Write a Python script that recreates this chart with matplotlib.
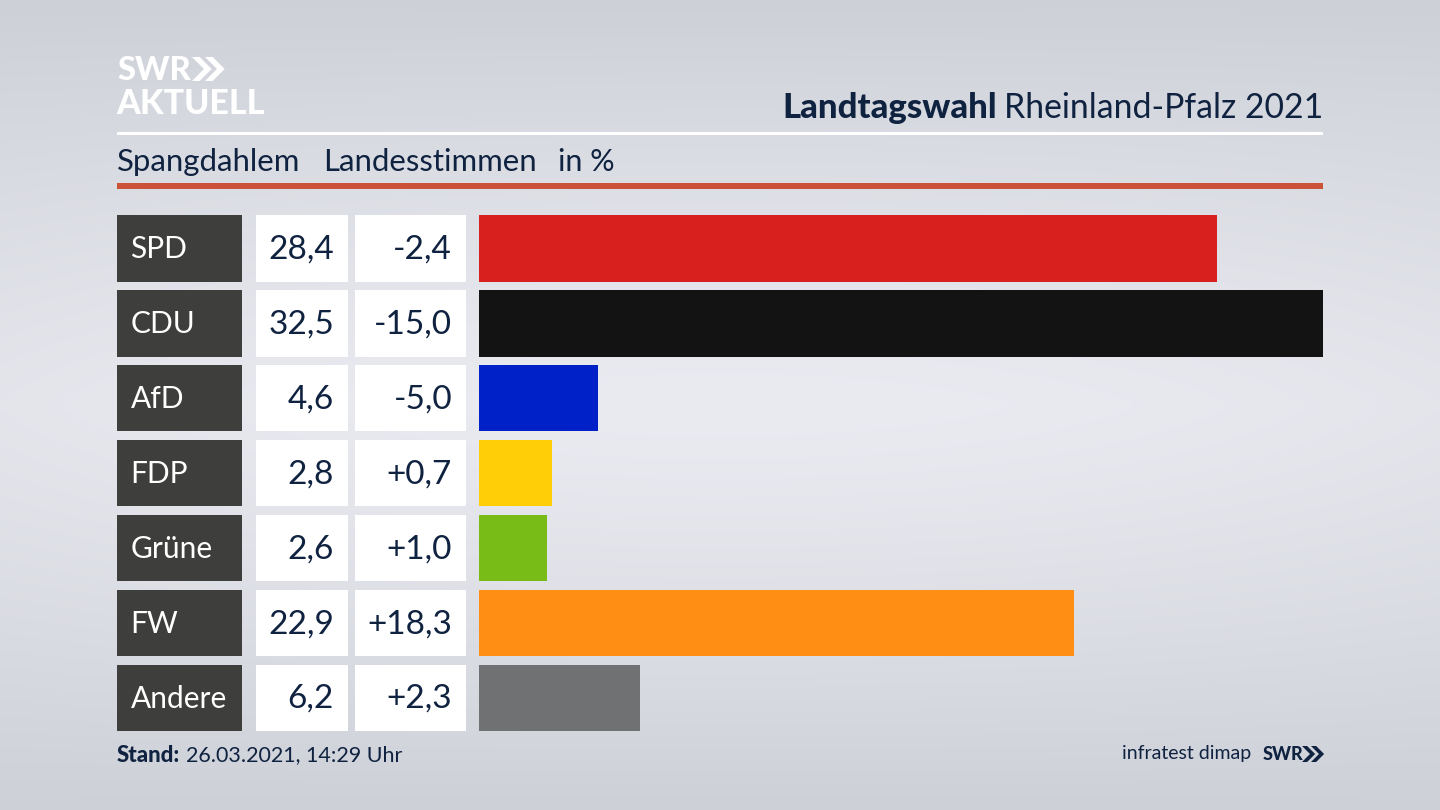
import numpy as np
import matplotlib
matplotlib.use("Agg")
import matplotlib.pyplot as plt
from matplotlib.patches import Rectangle, Polygon

parties = ["SPD", "CDU", "AfD", "FDP", "Grüne", "FW", "Andere"]
shares = [28.4, 32.5, 4.6, 2.8, 2.6, 22.9, 6.2]
changes = ["-2,4", "-15,0", "-5,0", "+0,7", "+1,0", "+18,3", "+2,3"]
colors = ["#d8201f", "#131313", "#0021c7", "#ffce07", "#77bc17", "#ff8f14", "#707172"]

NAVY = "#0f2240"
FONT = "Lato"
plt.rcParams["font.family"] = [FONT, "DejaVu Sans"]

fig = plt.figure(figsize=(14.4, 8.1), dpi=100)

# backdrop and page furniture, in pixel coordinates
bg = fig.add_axes([0, 0, 1, 1])
bg.set_xlim(0, 1440); bg.set_ylim(810, 0); bg.axis("off")
yy, xx = np.mgrid[0:1:162j, 0:1:288j]
d = np.clip(1 - (np.abs(yy - 0.5) / 0.5) ** 1.3, 0, 1) * (1 - 0.22 * (np.abs(xx - 0.5) / 0.5) ** 2)
top = np.array([205, 208, 215]) / 255
mid = np.array([234, 235, 241]) / 255
img = top + (mid - top) * d[..., None]
bg.imshow(img, extent=(0, 1440, 810, 0), aspect="auto", interpolation="bicubic", zorder=0)

bg.add_patch(Rectangle((117, 132), 1206, 3, color="white", lw=0, zorder=1))
bg.add_patch(Rectangle((117, 183), 1206, 6, color="#cb5238", lw=0, zorder=1))

def chevrons(x, y, h, color, gap):
    w = h * 0.5
    t = h * 0.32
    for k in range(2):
        x0 = x + k * gap
        bg.add_patch(Polygon([(x0, y), (x0 + t, y), (x0 + t + w, y + h / 2), (x0 + t, y + h),
                              (x0, y + h), (x0 + w, y + h / 2)], closed=True, color=color, lw=0, zorder=3))

bg.text(117, 70, "SWR", fontsize=23.5, fontweight="black", color="white", va="center", ha="left")
chevrons(192, 57, 24, "white", 13)
bg.text(116, 104, "AKTUELL", fontsize=24.5, fontweight="black", color="white", va="center", ha="left")

bg.text(1323, 108, "Rheinland-Pfalz 2021", fontsize=24.3, color=NAVY, va="center", ha="right")
bg.text(997, 108, "Landtagswahl", fontsize=25, fontweight="black", color=NAVY, va="center", ha="right")

bg.text(117, 162, "Spangdahlem", fontsize=22.4, color=NAVY, va="center", ha="left")
bg.text(323, 162, "Landesstimmen", fontsize=22.4, color=NAVY, va="center", ha="left")
bg.text(558, 162, "in %", fontsize=22, color=NAVY, va="center", ha="left")

# bars on a real value axis
ax = fig.add_axes([479 / 1440, 1 - 731.3 / 810, (1323 - 479) / 1440, (731.3 - 215) / 810])
ax.patch.set_alpha(0)
pos = np.arange(len(parties))
ax.barh(pos, shares, height=0.888, color=colors, linewidth=0)
ax.set_xlim(0, max(shares))
ax.set_ylim(6.444, -0.444)
ax.axis("off")

# table cells follow the rows of the bar axis
pitch = (731.3 - 215) / 6.888
for i, (p, s, c) in enumerate(zip(parties, shares, changes)):
    yc = 215 + (i + 0.444) * pitch
    h = 0.888 * pitch
    bg.add_patch(Rectangle((117, yc - h / 2), 124.5, h, color="#3e3e3c", lw=0, zorder=1))
    bg.add_patch(Rectangle((255.5, yc - h / 2), 92.5, h, color="white", lw=0, zorder=1))
    bg.add_patch(Rectangle((354.5, yc - h / 2), 111.5, h, color="white", lw=0, zorder=1))
    bg.text(130.5, yc + 1, p, fontsize=21.5, color="white", va="center", ha="left", zorder=2)
    bg.text(334, yc + 1, f"{s:.1f}".replace(".", ","), fontsize=24, color=NAVY, va="center", ha="right", zorder=2)
    bg.text(452, yc + 1, c, fontsize=24, color=NAVY, va="center", ha="right", zorder=2)

bg.text(117, 755, "Stand:", fontsize=16, fontweight="black", color=NAVY, va="center", ha="left")
bg.text(186, 755, "26.03.2021, 14:29 Uhr", fontsize=15.5, color=NAVY, va="center", ha="left")
bg.text(1251, 754, "infratest dimap", fontsize=14, color=NAVY, va="center", ha="right")
bg.text(1263, 754, "SWR", fontsize=13, fontweight="black", color=NAVY, va="center", ha="left")
chevrons(1302, 746, 16, NAVY, 9)

fig.savefig("out.png", dpi=100)
